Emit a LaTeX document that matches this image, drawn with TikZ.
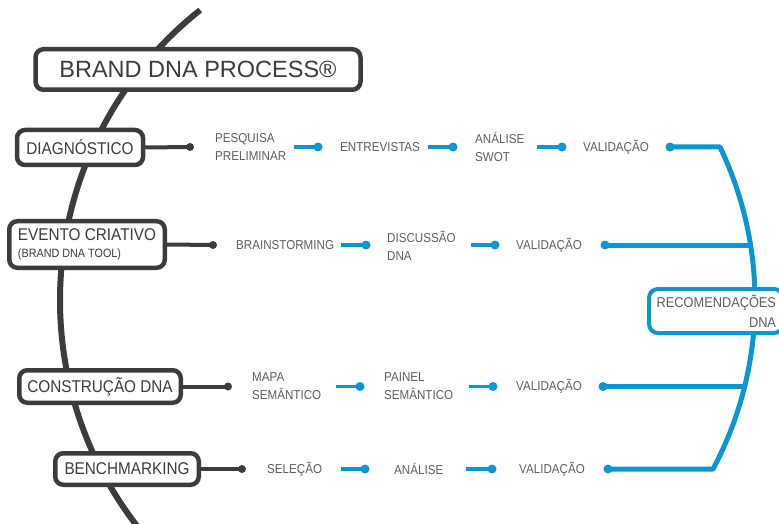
\documentclass[tikz,border=0pt]{standalone}
\usepackage{fontspec}
\setmainfont{Liberation Sans}[FakeStretch=0.9]
\newfontfamily\titlefont{Liberation Sans}
\definecolor{dk}{HTML}{3C3C3C}
\definecolor{tx}{HTML}{5E5E5E}
\definecolor{bl}{HTML}{0B96D3}
\tikzset{
  dkbox/.style={draw=dk, line width=4.5pt, rounded corners=8pt, fill=white, text=dk, inner sep=0pt, font=\fontsize{17}{19}\selectfont},
  blbox/.style={draw=bl, line width=4pt, rounded corners=9pt, fill=white, text=tx, inner xsep=7pt, inner ysep=0pt, align=right, font=\fontsize{14.2}{20}\selectfont},
  lbl/.style={anchor=west, inner sep=0pt, text=tx, align=left, font=\fontsize{12.9}{18}\selectfont},
  dkdot/.style={circle, fill=dk, inner sep=0pt, minimum size=8pt},
  bldot/.style={circle, fill=bl, inner sep=0pt, minimum size=9pt},
  dkline/.style={draw=dk, line width=4pt},
  blline/.style={draw=bl, line width=3.5pt},
  blbig/.style={draw=bl, line width=5pt, line join=round},
  spine/.style={draw=dk, line width=6pt}
}
\begin{document}
\begin{tikzpicture}[x=1pt,y=1pt]
\clip (0,0) rectangle (779,523);
% dark spine
\draw[spine] (430,223) ++(128.4:370) arc[start angle=128.4, end angle=218, radius=370];

% dots
\node[dkdot] (dd1) at (190,376) {};
\node[dkdot] (dd2) at (213,278) {};
\node[dkdot] (dd3) at (228,136.5) {};
\node[dkdot] (dd4) at (242,54) {};

\node[bldot] (b11) at (318,376) {};
\node[bldot] (b12) at (453,376) {};
\node[bldot] (b13) at (562,376) {};
\node[bldot] (v1) at (670,376) {};
\node[bldot] (b21) at (366,278) {};
\node[bldot] (b22) at (495,278) {};
\node[bldot] (v2) at (605,278) {};
\node[bldot] (b31) at (360,136.5) {};
\node[bldot] (b32) at (493,136.5) {};
\node[bldot] (v3) at (603,136.5) {};
\node[bldot] (b41) at (365,54) {};
\node[bldot] (b42) at (492,54) {};
\node[bldot] (v4) at (608,54) {};

% labels
\node[lbl] (pesq) at (215,376.5) {PESQUISA\\PRELIMINAR};
\node[lbl] (ent) at (340,376) {ENTREVISTAS};
\node[lbl] (swot) at (475,376.5) {ANÁLISE\\SWOT};
\node[lbl] (val1) at (583,376) {VALIDAÇÃO};
\node[lbl] (brain) at (236,278) {BRAINSTORMING};
\node[lbl] (disc) at (387,277.5) {DISCUSSÃO\\DNA};
\node[lbl] (val2) at (516,278) {VALIDAÇÃO};
\node[lbl] (mapa) at (252,136.5) {MAPA\\SEMÂNTICO};
\node[lbl] (painel) at (384,136.5) {PAINEL\\SEMÂNTICO};
\node[lbl] (val3) at (516,136.5) {VALIDAÇÃO};
\node[lbl] (sel) at (267,54) {SELEÇÃO};
\node[lbl] (ana) at (394,54) {ANÁLISE};
\node[lbl] (val4) at (519,54) {VALIDAÇÃO};

% short blue connectors
\draw[blline] (b11.center) -- ++(-24,0);
\draw[blline] (b12.center) -- ++(-25,0);
\draw[blline] (b13.center) -- ++(-25,0);
\draw[blline] (b21.center) -- ++(-25,0);
\draw[blline] (b22.center) -- ++(-24,0);
\draw[blline] (b31.center) -- ++(-24,0);
\draw[blline] (b32.center) -- ++(-24,0);
\draw[blline] (b41.center) -- ++(-24,0);
\draw[blline] (b42.center) -- ++(-26,0);

% blue collector
\coordinate (j1) at (720,376);
\coordinate (j2) at (750.6,278);
\coordinate (j3) at (744.5,136.5);
\draw[blbig] (v1.center) -- (j1) arc[start angle=25.6, end angle=-28.1, radius=356.7] -- (v4.center);
\draw[blbig] (v2.center) -- (j2);
\draw[blbig] (v3.center) -- (j3);

% boxes
\node[dkbox, minimum width=325pt, minimum height=40.5pt, font=\titlefont\fontsize{23.5}{26}\selectfont] (title) at (198,453.5) {BRAND DNA PROCESS®};
\node[dkbox, minimum width=126pt, minimum height=35pt] (diag) at (80,375.5) {DIAGNÓSTICO};
\node[dkbox, minimum width=155.5pt, minimum height=46.5pt, align=left] (evento) at (87,278.5) {EVENTO CRIATIVO\\[-2pt]{\fontsize{12}{14}\selectfont (BRAND DNA TOOL)}};
\node[dkbox, minimum width=161.5pt, minimum height=32.5pt] (constr) at (100,136.5) {CONSTRUÇÃO DNA};
\node[dkbox, minimum width=143.5pt, minimum height=31.5pt] (bench) at (127,54) {BENCHMARKING};
\node[blbox, text width=120pt, minimum height=44pt] (rec) at (716,212) {RECOMENDAÇÕES\\DNA};

% dark connectors
\draw[dkline] (diag.east) -- (dd1.center);
\draw[dkline] (evento.east) -- (dd2.center);
\draw[dkline] (constr.east) -- (dd3.center);
\draw[dkline] (bench.east) -- (dd4.center);
\end{tikzpicture}
\end{document}
